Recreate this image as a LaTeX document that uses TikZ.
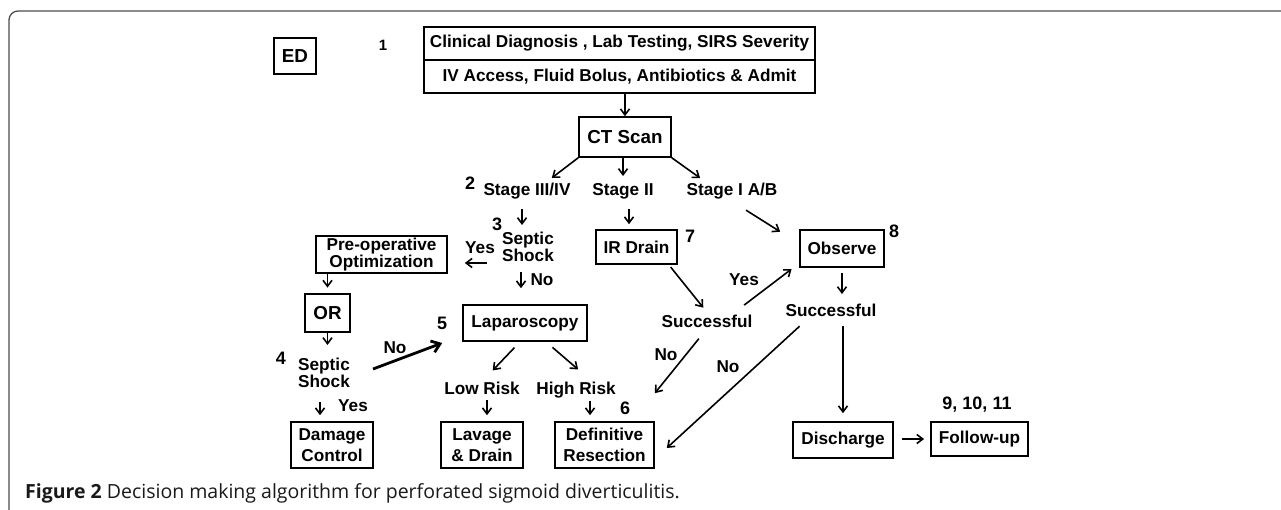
\documentclass[tikz,border=0pt]{standalone}
\usepackage{fontspec}
\setmainfont{Liberation Sans}
\newfontfamily\capfont{Open Sans}
\usetikzlibrary{arrows.meta, positioning}

\newcommand{\flowfont}{\bfseries\fontsize{17.2}{17}\selectfont}
\newcommand{\tallfont}{\bfseries\fontsize{17.2}{21}\selectfont}
\newcommand{\bigfont}{\bfseries\fontsize{18.8}{19}\selectfont}
\newcommand{\numfont}{\bfseries\fontsize{18}{18}\selectfont}

\begin{document}
\begin{tikzpicture}[x=1pt, y=-1pt, >={Straight Barb[length=6pt,width=9pt]}]

			% Styles
			\tikzstyle{block} = [rectangle, draw, line width=1.6pt, inner sep=0pt, align=center, font=\flowfont]
			\tikzstyle{heavy} = [block, line width=2.8pt]
			\tikzstyle{txt} = [inner sep=1pt, align=center, font=\flowfont]
			\tikzstyle{numlbl} = [inner sep=0pt, anchor=base, font=\numfont]
			\tikzstyle{arrow} = [->, line width=1.6pt]

			\useasboundingbox (0,0) rectangle (1281,509);
			\draw[black!70, line width=1.3pt, rounded corners=9pt] (9,11) rectangle (1320,560);

			% Nodes
			\node[block, minimum width=42pt, minimum height=36pt, font=\bigfont] (ed) at (295,56) {ED};
			\node[numlbl, font=\bfseries\fontsize{15}{15}\selectfont] (n1) at (383,50.4) {1};
			\node[block, minimum width=391pt, minimum height=33pt] (diag) at (619.5,43.5) {Clinical Diagnosis , Lab Testing, SIRS Severity};
			\node[block, minimum width=391pt, minimum height=33pt, below=-1.6pt of diag] (admit) {IV Access, Fluid Bolus, Antibiotics \& Admit};
			\node[block, minimum width=92pt, minimum height=40pt, font=\bigfont] (ct) at (625,137) {CT Scan};

			\node[numlbl] (n2) at (470,189.5) {2};
			\node[txt, anchor=base] (s34) at (527,195.2) {Stage III/IV};
			\node[txt, anchor=base] (s2) at (623,195.2) {Stage II};
			\node[txt, anchor=base] (s1) at (732,195.2) {Stage I A/B};

			\node[numlbl] (n3) at (497,230.5) {3};
			\node[txt] (shock3) at (528,246.5) {Septic\\Shock};
			\node[txt, anchor=base] (yes3) at (480,253.2) {Yes};
			\node[txt, anchor=base] (no3) at (542,285.2) {No};
			\node[block, minimum width=131pt, minimum height=37pt] (preop) at (381.5,254.5) {Pre-operative\\Optimization};
			\node[heavy, minimum width=45pt, minimum height=38pt, font=\bigfont] (or) at (327.5,313) {OR};

			\node[numlbl] (n5) at (442,329.5) {5};
			\node[block, minimum width=124pt, minimum height=36pt] (lap) at (525,323) {Laparoscopy};
			\node[block, minimum width=81pt, minimum height=34pt] (ir) at (636.5,247) {IR Drain};
			\node[numlbl] (n7) at (690,242.5) {7};
			\node[block, minimum width=84pt, minimum height=37pt] (obs) at (842,248.5) {Observe};
			\node[numlbl] (n8) at (894,237.5) {8};

			\node[numlbl] (n4) at (281,364.5) {4};
			\node[txt] (shock4) at (324,372.5) {Septic\\Shock};
			\node[txt, anchor=base] (no4) at (395,353.2) {No};
			\node[txt, anchor=base] (yes4) at (353,411.2) {Yes};
			\node[block, minimum width=82pt, minimum height=46pt, font=\tallfont] (dmg) at (332,445) {Damage\\Control};

			\node[txt, anchor=base] (low) at (482,394.2) {Low Risk};
			\node[txt, anchor=base] (high) at (576,394.2) {High Risk};
			\node[numlbl] (n6) at (625,414.5) {6};
			\node[block, minimum width=82pt, minimum height=46pt, font=\tallfont] (lav) at (482,445) {Lavage\\\& Drain};
			\node[block, minimum width=99pt, minimum height=46pt, font=\tallfont] (def) at (604.5,445) {Definitive\\Resection};

			\node[txt, anchor=base] (succ1) at (707,327.2) {Successful};
			\node[txt, anchor=base] (yes7) at (744,285.2) {Yes};
			\node[txt, anchor=base] (no7) at (666,360.2) {No};
			\node[txt, anchor=base] (succ2) at (831,316.2) {Successful};
			\node[txt, anchor=base] (no8) at (728,372.2) {No};

			\node[block, minimum width=100pt, minimum height=36pt] (dis) at (843,440) {Discharge};
			\node[heavy, minimum width=97pt, minimum height=34pt] (fol) at (979.5,439) {Follow-up};
			\node[numlbl] (n9) at (977,409.5) {9, 10, 11};

			\node[inner sep=0pt, anchor=base west, text=black!90, font=\capfont\fontsize{19.5}{20}\selectfont] (caption) at (25,498) {\textbf{Figure 2} Decision making algorithm for perforated sigmoid diverticulitis.};

			% Arrows (top)
			\draw[arrow] (ct.north |- admit.south) -- (ct.north);
			\draw[arrow, shorten >=6pt] (ct.south west) -- ([xshift=20pt]s34.north);
			\draw[arrow, shorten >=6pt] (ct.south -| s2.north) -- (s2.north);
			\draw[arrow, shorten >=6pt] (ct.south east) -- ([xshift=-27pt]s1.north);
			\draw[arrow, shorten <=9pt, shorten >=5.5pt] ([xshift=-5pt]s34.south) -- ([xshift=-5pt]s34.south |- shock3.north);
			\draw[arrow, shorten <=9pt, shorten >=5pt] ([xshift=6pt]s2.south) -- ([xshift=6pt]s2.south |- ir.north);

			% Arrows (left branch)
			\draw[arrow] ([xshift=-14pt, yshift=-16.5pt]shock3.west) -- ([xshift=17pt, yshift=-8.5pt]preop.east);
			\draw[arrow, shorten <=9.5pt, shorten >=16pt] ([xshift=-7pt]shock3.south) -- ([xshift=-7pt]shock3.south |- lap.north);
			\draw[arrow, shorten >=5pt] (or.north |- preop.south) -- (or.north);
			\draw[arrow, shorten >=11.5pt] (or.south) -- (or.south |- shock4.north);
			\draw[arrow, line width=2.8pt, -{Straight Barb[length=8pt,width=12pt]}] ([xshift=22pt, yshift=3.5pt]shock4.east) -- ([xshift=-20pt, yshift=-20pt]lap.west);
			\draw[arrow, shorten <=13.5pt, shorten >=6pt] ([xshift=-4pt]shock4.south) -- ([xshift=-4pt]shock4.south |- dmg.north);
			\draw[arrow, shorten <=8pt, shorten >=14pt] ([xshift=-5pt]lap.south) -- ([xshift=1pt]low.north);
			\draw[arrow, shorten <=8.5pt, shorten >=17pt] ([xshift=21pt]lap.south) -- ([xshift=15pt]high.north);
			\draw[arrow, shorten <=4.5pt, shorten >=6pt] ([xshift=5pt]low.south) -- ([xshift=5pt]low.south |- lav.north);
			\draw[arrow, shorten <=1.5pt, shorten >=6pt] ([xshift=14pt]high.south) -- ([xshift=14pt]high.south |- def.north);

			% Arrows (right branch)
			\draw[arrow, shorten <=3pt, shorten >=7.5pt] ([xshift=-9pt]ir.south east) -- ([xshift=1pt]succ1.north);
			\draw[arrow, shorten <=14pt, shorten >=2pt] ([xshift=26pt]succ1.north) -- ([xshift=-6pt]obs.south west);
			\draw[arrow, shorten <=13pt] (succ1.south) -- ([yshift=28pt]def.north east);
			\draw[arrow, shorten <=19pt] ([xshift=-2pt]s1.south) -- ([xshift=-19pt, yshift=-2.5pt]obs.north west);
			\draw[arrow, shorten <=5pt, shorten >=8.5pt] (obs.south) -- (obs.south |- succ2.north);
			\draw[arrow, shorten <=12.7pt] ([xshift=-22pt]succ2.south) -- ([xshift=12pt, yshift=-3pt]def.east);
			\draw[arrow, shorten <=8.5pt, shorten >=8pt] (dis.north |- succ2.south) -- (dis.north);
			\draw[arrow, shorten <=8pt, shorten >=5.5pt] (dis.east |- fol.west) -- (fol.west);

		\end{tikzpicture}
\end{document}
